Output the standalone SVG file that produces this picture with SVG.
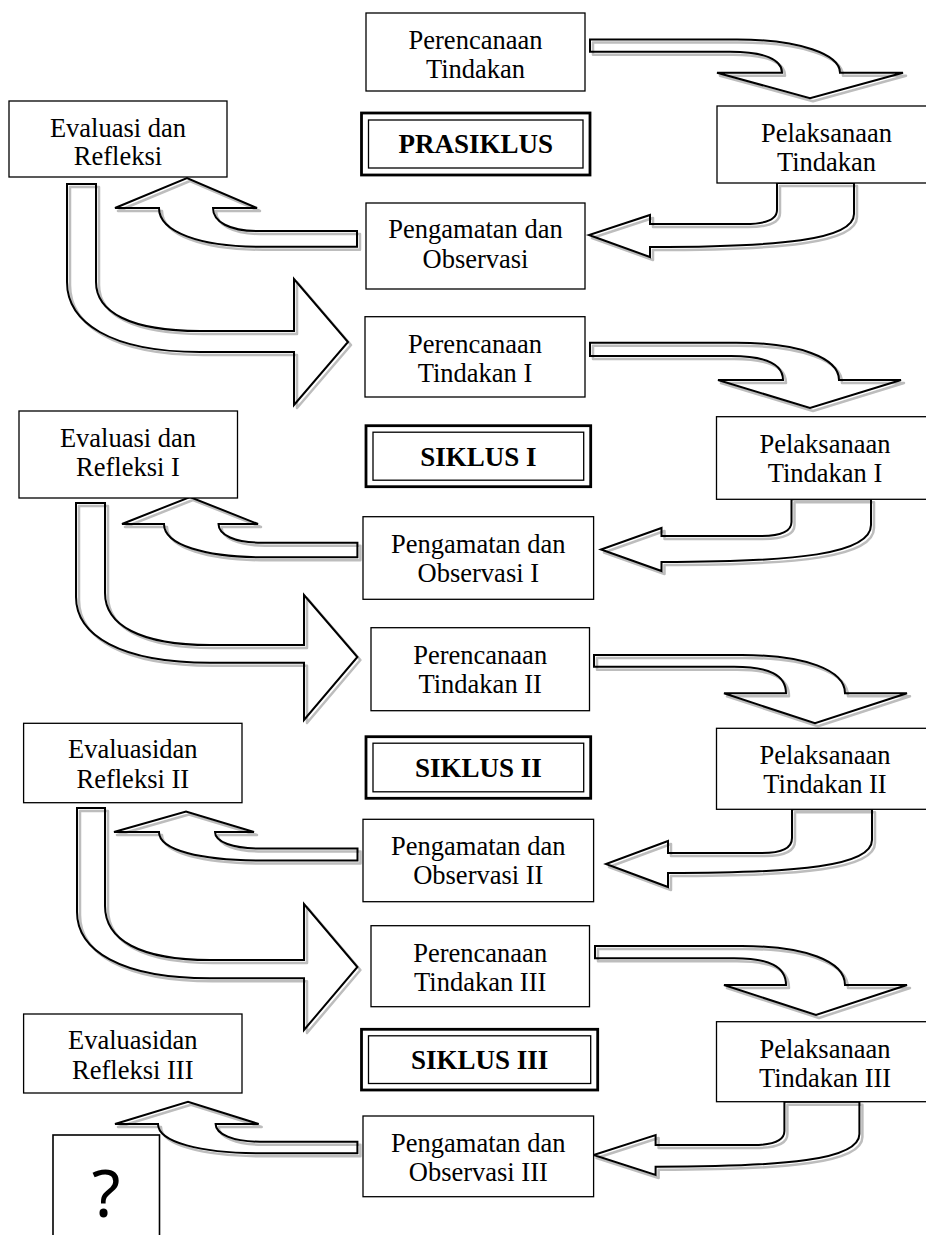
<svg xmlns="http://www.w3.org/2000/svg" xmlns:xlink="http://www.w3.org/1999/xlink" width="926" height="1235" viewBox="0 0 926 1235">
<style>
.box{fill:#fff;stroke:#000;stroke-width:1.3}
.ob{fill:#fff;stroke:#000;stroke-width:2.8}
.ib{fill:none;stroke:#000;stroke-width:1.3}
.t{font-family:"Liberation Serif","Times New Roman",serif;font-size:26.5px;text-anchor:middle;fill:#000}
.tb{font-family:"Liberation Serif","Times New Roman",serif;font-size:27px;font-weight:bold;text-anchor:middle;fill:#000}
.q{font-family:"Noto Sans","DejaVu Sans",sans-serif;font-size:66px;text-anchor:middle;fill:#000}
.af{fill:#fff;stroke:none}
.as{fill:none;stroke:#bdbdbd;stroke-width:2.5;stroke-linejoin:round}
.al{fill:none;stroke:#000;stroke-width:2;stroke-linejoin:miter}
</style>
<defs>
<path id="R1" d="M 590,39.5 H 737 C 800,39.5 840,54.5 840,72.7 H 903 L 810,98.3 L 717,72.7 H 782 C 782,59.7 765,51.7 730,51.7 H 590 Z"/>
<path id="R2" d="M 590,342.7 H 736 C 799,342.7 839,357.7 839,380 H 901 L 810,408 L 718,380 H 783 C 783,364 766,356 731,356 H 590 Z"/>
<path id="R3" d="M 594,655 H 742 C 805,655 845,670 845,693.3 H 907 L 815,723.3 L 724,693.3 H 786 C 786,674.7 769,666.7 734,666.7 H 594 Z"/>
<path id="R4" d="M 595,946 H 742 C 805,946 845,961 845,985 H 907 L 816,1015 L 724,985 H 786 C 786,966.3 769,958.3 734,958.3 H 595 Z"/>
<path id="L1" d="M 777,183 H 854 V 214 C 854,240 780,247 650,247 V 257 L 589,235 L 650,215 V 224 H 745 Q 777,224 777,210 Z"/>
<path id="L2" d="M 791.5,499.3 H 871 V 525 C 871,554 797,562 661.5,562 V 571 L 601,549.5 L 661.5,528 V 536 H 760 Q 791.5,536 791.5,522 Z"/>
<path id="L3" d="M 792,809.3 H 872 V 840 C 872,866 799,873 668,873 V 887 L 606,864 L 668,841 V 853 H 762 Q 792,853 792,838 Z"/>
<path id="L4" d="M 784.4,1101.7 H 859.4 V 1134 C 859.4,1160 786,1166.7 655.6,1166.7 V 1175 L 593.6,1155 L 655.6,1135 V 1145 H 753 Q 784.4,1145 784.4,1131 Z"/>
<path id="U1" d="M 357,231 H 257 C 230,231 213,222 213,208 H 257 L 187,178 L 115,208 H 159 C 159,232 200,246.7 260,246.7 H 357 Z"/>
<path id="U2" d="M 357.4,542.7 H 262 C 235,542.7 218.5,535 218.5,524 H 258 L 190,497 L 122,524 H 164 C 164,545 205,557.3 265,557.3 H 357.4 Z"/>
<path id="U3" d="M 357.5,848.5 H 260 C 233,848.5 215,842 215,832 H 254 L 186,811.5 L 114,832 H 159 C 159,850 200,860.5 262,860.5 H 357.5 Z"/>
<path id="U4" d="M 357.4,1141.7 H 260 C 233,1141.7 215.6,1134 215.6,1124 H 258.7 L 188,1101.7 L 115,1124 H 158 C 158,1142 200,1153.3 262,1153.3 H 357.4 Z"/>
<path id="B1" d="M 67,184 H 96 V 282 C 96,312 130,331 200,331 H 294 V 279 L 348,342 L 294,405 V 352 H 200 C 110,352 67,322 67,282 Z"/>
<path id="B2" d="M 76,503 H 105 V 593 C 105,625 140,645 210,645 H 304 V 595 L 357.4,657 L 304,720 V 662.7 H 210 C 120,662.7 76,635 76,597 Z"/>
<path id="B3" d="M 77,808 H 105 V 906 C 105,940 140,960 210,960 H 304 V 904 L 357.4,967 L 304,1030 V 978.3 H 210 C 120,978.3 77,950 77,912 Z"/>
</defs>
<rect x="0" y="0" width="926" height="1235" fill="#fff"/>
<g id="connectors">
<use xlink:href="#R1" class="af"/><use xlink:href="#R1" class="as" transform="translate(3,3)"/><use xlink:href="#R1" class="al"/>
<use xlink:href="#R2" class="af"/><use xlink:href="#R2" class="as" transform="translate(3,3)"/><use xlink:href="#R2" class="al"/>
<use xlink:href="#R3" class="af"/><use xlink:href="#R3" class="as" transform="translate(3,3)"/><use xlink:href="#R3" class="al"/>
<use xlink:href="#R4" class="af"/><use xlink:href="#R4" class="as" transform="translate(3,3)"/><use xlink:href="#R4" class="al"/>
<use xlink:href="#L1" class="af"/><use xlink:href="#L1" class="as" transform="translate(3,3)"/><use xlink:href="#L1" class="al"/>
<use xlink:href="#L2" class="af"/><use xlink:href="#L2" class="as" transform="translate(3,3)"/><use xlink:href="#L2" class="al"/>
<use xlink:href="#L3" class="af"/><use xlink:href="#L3" class="as" transform="translate(3,3)"/><use xlink:href="#L3" class="al"/>
<use xlink:href="#L4" class="af"/><use xlink:href="#L4" class="as" transform="translate(3,3)"/><use xlink:href="#L4" class="al"/>
<use xlink:href="#U1" class="af"/><use xlink:href="#U1" class="as" transform="translate(3,3)"/><use xlink:href="#U1" class="al"/>
<use xlink:href="#U2" class="af"/><use xlink:href="#U2" class="as" transform="translate(3,3)"/><use xlink:href="#U2" class="al"/>
<use xlink:href="#U3" class="af"/><use xlink:href="#U3" class="as" transform="translate(3,3)"/><use xlink:href="#U3" class="al"/>
<use xlink:href="#U4" class="af"/><use xlink:href="#U4" class="as" transform="translate(3,3)"/><use xlink:href="#U4" class="al"/>
<use xlink:href="#B1" class="af"/><use xlink:href="#B1" class="as" transform="translate(3,3)"/><use xlink:href="#B1" class="al"/>
<use xlink:href="#B2" class="af"/><use xlink:href="#B2" class="as" transform="translate(3,3)"/><use xlink:href="#B2" class="al"/>
<use xlink:href="#B3" class="af"/><use xlink:href="#B3" class="as" transform="translate(3,3)"/><use xlink:href="#B3" class="al"/>
</g>
<g id="pt0"><rect class="box" x="366" y="13" width="219" height="78"/><text class="t"><tspan x="475.5" y="49">Perencanaan</tspan><tspan x="475.5" y="78">Tindakan</tspan></text></g>
<g id="er0"><rect class="box" x="9" y="101" width="218" height="76"/><text class="t"><tspan x="118" y="137">Evaluasi dan</tspan><tspan x="118" y="165">Refleksi</tspan></text></g>
<g id="prasiklus"><rect class="ob" x="361.5" y="113" width="228.5" height="62"/><rect class="ib" x="368.5" y="120" width="214.5" height="48"/><text class="tb" x="475.7" y="153">PRASIKLUS</text></g>
<g id="pl0"><rect class="box" x="717" y="106" width="219" height="77"/><text class="t"><tspan x="826.5" y="142">Pelaksanaan</tspan><tspan x="826.5" y="171">Tindakan</tspan></text></g>
<g id="po0"><rect class="box" x="366" y="203" width="219" height="86"/><text class="t"><tspan x="475.5" y="238">Pengamatan dan</tspan><tspan x="475.5" y="268">Observasi</tspan></text></g>

<g id="pt1"><rect class="box" x="365" y="316.7" width="220" height="80.3"/><text class="t"><tspan x="475" y="352.7">Perencanaan</tspan><tspan x="475" y="381.7">Tindakan I</tspan></text></g>
<g id="er1"><rect class="box" x="19" y="411" width="218.5" height="87"/><text class="t"><tspan x="128" y="447">Evaluasi dan</tspan><tspan x="128" y="476">Refleksi I</tspan></text></g>
<g id="siklus1"><rect class="ob" x="366" y="425.7" width="224.7" height="61"/><rect class="ib" x="373" y="432.2" width="210.7" height="48"/><text class="tb" x="478.3" y="465.5">SIKLUS I</text></g>
<g id="pl1"><rect class="box" x="716.5" y="416.7" width="219" height="82.6"/><text class="t"><tspan x="825" y="452.7">Pelaksanaan</tspan><tspan x="825" y="481.7">Tindakan I</tspan></text></g>
<g id="po1"><rect class="box" x="363" y="516.7" width="230.6" height="82.6"/><text class="t"><tspan x="478.3" y="552.7">Pengamatan dan</tspan><tspan x="478.3" y="581.7">Observasi I</tspan></text></g>

<g id="pt2"><rect class="box" x="371" y="627.7" width="218.5" height="83"/><text class="t"><tspan x="480.2" y="663.7">Perencanaan</tspan><tspan x="480.2" y="692.7">Tindakan II</tspan></text></g>
<g id="er2"><rect class="box" x="23.6" y="723.3" width="218.4" height="79.4"/><text class="t"><tspan x="132.8" y="758.3">Evaluasidan</tspan><tspan x="132.8" y="788.3">Refleksi II</tspan></text></g>
<g id="siklus2"><rect class="ob" x="366" y="736.7" width="224.7" height="61.6"/><rect class="ib" x="373" y="743.2" width="210.7" height="48.6"/><text class="tb" x="478.3" y="776.8">SIKLUS II</text></g>
<g id="pl2"><rect class="box" x="716.5" y="728.3" width="219" height="81"/><text class="t"><tspan x="825" y="764.3">Pelaksanaan</tspan><tspan x="825" y="793.3">Tindakan II</tspan></text></g>
<g id="po2"><rect class="box" x="363" y="819.3" width="230.6" height="82.4"/><text class="t"><tspan x="478.3" y="855.3">Pengamatan dan</tspan><tspan x="478.3" y="884.3">Observasi II</tspan></text></g>

<g id="pt3"><rect class="box" x="371" y="925.7" width="218.5" height="81"/><text class="t"><tspan x="480.2" y="961.7">Perencanaan</tspan><tspan x="480.2" y="990.7">Tindakan III</tspan></text></g>
<g id="er3"><rect class="box" x="23.6" y="1014" width="218.4" height="79"/><text class="t"><tspan x="132.8" y="1049">Evaluasidan</tspan><tspan x="132.8" y="1079">Refleksi III</tspan></text></g>
<g id="siklus3"><rect class="ob" x="361.5" y="1029.3" width="236.2" height="60.7"/><rect class="ib" x="368.5" y="1035.8" width="222.2" height="47.7"/><text class="tb" x="479.6" y="1069">SIKLUS III</text></g>
<g id="pl3"><rect class="box" x="716.5" y="1021.7" width="219" height="80"/><text class="t"><tspan x="825" y="1057.7">Pelaksanaan</tspan><tspan x="825" y="1086.7">Tindakan III</tspan></text></g>
<g id="po3"><rect class="box" x="363" y="1116" width="230.6" height="80.7"/><text class="t"><tspan x="478.3" y="1152">Pengamatan dan</tspan><tspan x="478.3" y="1181">Observasi III</tspan></text></g>

<g id="question"><rect class="box" x="53" y="1135" width="106.5" height="120" style="stroke-width:1.6"/><text class="q" x="106" y="1217">?</text></g>
</svg>
